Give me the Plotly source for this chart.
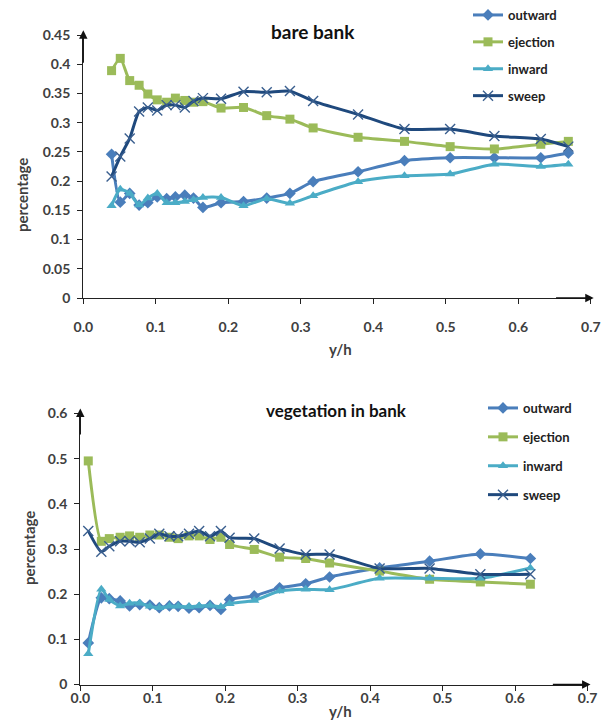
import plotly.graph_objects as go

# ---------------- data: bare bank (top) ----------------
x_top = [0.039, 0.051, 0.064, 0.077, 0.089, 0.102, 0.115, 0.127, 0.140, 0.152, 0.165,
         0.190, 0.221, 0.253, 0.285, 0.317, 0.379, 0.443, 0.506, 0.567, 0.631, 0.669]
top_outward = [0.246, 0.164, 0.179, 0.159, 0.163, 0.173, 0.170, 0.173, 0.176, 0.171, 0.155,
               0.163, 0.165, 0.171, 0.179, 0.199, 0.216, 0.235, 0.240, 0.240, 0.240, 0.248]
top_ejection = [0.389, 0.410, 0.372, 0.364, 0.349, 0.339, 0.335, 0.342, 0.338, 0.335, 0.336,
                0.325, 0.326, 0.312, 0.306, 0.291, 0.275, 0.268, 0.259, 0.255, 0.263, 0.268]
top_inward = [0.158, 0.186, 0.179, 0.159, 0.171, 0.179, 0.163, 0.163, 0.165, 0.168, 0.172,
              0.172, 0.158, 0.170, 0.162, 0.175, 0.199, 0.209, 0.212, 0.229, 0.225, 0.229]
top_sweep = [0.208, 0.242, 0.273, 0.319, 0.326, 0.321, 0.330, 0.330, 0.326, 0.337, 0.342,
             0.341, 0.353, 0.352, 0.354, 0.337, 0.314, 0.289, 0.289, 0.277, 0.272, 0.259]

# ---------------- data: vegetation in bank (bottom) ----------------
x_bot = [0.011, 0.029, 0.040, 0.055, 0.068, 0.082, 0.096, 0.109, 0.123, 0.135, 0.150, 0.164,
         0.179, 0.194, 0.206, 0.240, 0.275, 0.311, 0.344, 0.413, 0.482, 0.552, 0.621]
bot_outward = [0.092, 0.192, 0.190, 0.185, 0.174, 0.177, 0.176, 0.170, 0.174, 0.173, 0.169, 0.170,
               0.175, 0.166, 0.188, 0.196, 0.214, 0.223, 0.238, 0.258, 0.273, 0.289, 0.279]
bot_ejection = [0.495, 0.317, 0.323, 0.326, 0.329, 0.326, 0.331, 0.331, 0.326, 0.323, 0.329, 0.329,
                0.321, 0.326, 0.310, 0.299, 0.282, 0.279, 0.269, 0.251, 0.233, 0.227, 0.222]
bot_inward = [0.068, 0.211, 0.188, 0.174, 0.180, 0.180, 0.173, 0.170, 0.173, 0.173, 0.172, 0.174,
              0.175, 0.172, 0.179, 0.186, 0.207, 0.211, 0.210, 0.235, 0.235, 0.235, 0.258]
bot_sweep = [0.340, 0.294, 0.306, 0.317, 0.317, 0.315, 0.323, 0.334, 0.328, 0.328, 0.334, 0.340,
             0.328, 0.340, 0.325, 0.323, 0.301, 0.288, 0.288, 0.257, 0.257, 0.244, 0.244]

series_names = ["outward", "ejection", "inward", "sweep"]
x_ticks = [0.0, 0.1, 0.2, 0.3, 0.4, 0.5, 0.6, 0.7]
x_ticktext = ["0.0", "0.1", "0.2", "0.3", "0.4", "0.5", "0.6", "0.7"]
y_top_ticks = [0, 0.05, 0.1, 0.15, 0.2, 0.25, 0.3, 0.35, 0.4, 0.45]
y_top_text = ["0", "0.05", "0.1", "0.15", "0.2", "0.25", "0.3", "0.35", "0.4", "0.45"]
y_bot_ticks = [0, 0.1, 0.2, 0.3, 0.4, 0.5, 0.6]
y_bot_text = ["0", "0.1", "0.2", "0.3", "0.4", "0.5", "0.6"]

# page has an 8px body margin; work in page pixel coordinates
OFF = 8
W, H = 612 - OFF, 723 - OFF
def fx(X): return (X - OFF) / W
def fy(Y): return 1 - (Y - OFF) / H

colors = {"outward": "#4A7EBB", "ejection": "#9BBB59", "inward": "#4BACC6", "sweep": "#1F497D"}
symbols = {"outward": "diamond", "ejection": "square", "inward": "triangle-up", "sweep": "x-thin"}
sizes = {"outward": 9, "ejection": 9, "inward": 9, "sweep": 10}

FONT = "Lato"
fig = go.Figure()

def add_series(xs, ys, name, xa, ya, legend):
    c = colors[name]
    marker = dict(symbol=symbols[name], size=sizes[name], color=c)
    if name == "sweep":
        marker["line"] = dict(width=1.4, color="#3A5F8F")
    fig.add_trace(go.Scatter(
        x=xs, y=ys, name=name, mode="lines+markers",
        line=dict(color=c, width=3, shape="spline", smoothing=0.6),
        marker=marker, xaxis=xa, yaxis=ya, legend=legend,
        legendgroup=legend + name, cliponaxis=False))

for name, ys in zip(series_names, [top_outward, top_ejection, top_inward, top_sweep]):
    add_series(x_top, ys, name, "x", "y", "legend")
for name, ys in zip(series_names, [bot_outward, bot_ejection, bot_inward, bot_sweep]):
    add_series(x_bot, ys, name, "x2", "y2", "legend2")

tickfont = dict(family=FONT, size=14, color="#404040", weight="bold")
axis_common = dict(showgrid=False, zeroline=False, showline=True, linecolor="#222",
                   linewidth=1.3, ticks="outside", ticklen=5, tickwidth=1.2,
                   tickcolor="#222", tickfont=tickfont, automargin=False)

legend_font = dict(family=FONT, size=13, color="#222", weight="bold")
fig.update_layout(
    width=W, height=H, margin=dict(l=0, r=0, t=0, b=0, autoexpand=False),
    paper_bgcolor="white", plot_bgcolor="white",
    xaxis=dict(domain=[fx(83.3), fx(590.8)], range=[0, 0.7], anchor="y",
               tickvals=x_ticks, ticktext=x_ticktext, ticklabelstandoff=11, **axis_common),
    yaxis=dict(domain=[fy(298), fy(35)], range=[0, 0.45], anchor="x",
               tickvals=y_top_ticks, ticktext=y_top_text, ticklabelstandoff=4, **axis_common),
    xaxis2=dict(domain=[fx(80.3), fx(587.6)], range=[0, 0.7], anchor="y2",
                tickvals=x_ticks, ticktext=x_ticktext, ticklabelstandoff=-4, **axis_common),
    yaxis2=dict(domain=[fy(684.5), fy(413.5)], range=[0, 0.6], anchor="x2",
                tickvals=y_bot_ticks, ticktext=y_bot_text, ticklabelstandoff=4, **axis_common),
    legend=dict(x=fx(468), y=fy(0), xanchor="left", yanchor="top", font=legend_font,
                tracegroupgap=7, itemwidth=30, bgcolor="rgba(0,0,0,0)"),
    legend2=dict(x=fx(483), y=fy(393), xanchor="left", yanchor="top", font=legend_font,
                 tracegroupgap=9, itemwidth=30, bgcolor="rgba(0,0,0,0)"),
)

ann = []
center = dict(xref="paper", yref="paper", showarrow=False, xanchor="center", yanchor="middle")
# titles
ann.append(dict(text="<b>bare bank</b>", x=fx(313), y=fy(32),
                font=dict(family=FONT, size=19, color="#111"), **center))
ann.append(dict(text="<b>vegetation in bank</b>", x=fx(337), y=fy(410),
                font=dict(family=FONT, size=17, color="#111"), **center))
# axis titles
title_font = dict(family=FONT, size=15, color="#404040")
ann.append(dict(text="<b>percentage</b>", x=fx(22), y=fy(195), textangle=-90, font=title_font, **center))
ann.append(dict(text="<b>percentage</b>", x=fx(29), y=fy(548), textangle=-90, font=title_font, **center))
ann.append(dict(text="<b>y/h</b>", x=fx(340), y=fy(349), font=title_font, **center))
ann.append(dict(text="<b>y/h</b>", x=fx(340), y=fy(711), font=title_font, **center))
# axis arrows
arrow = dict(showarrow=True, arrowhead=2, arrowsize=1.3, arrowwidth=1.3, arrowcolor="#111",
             text="", standoff=0)
ann.append(dict(x=0, y=0.458, ax=0, ay=0.40, xref="x", yref="y", axref="x", ayref="y", **arrow))
ann.append(dict(x=0.704, y=0, ax=0.65, ay=0, xref="x", yref="y", axref="x", ayref="y", **arrow))
ann.append(dict(x=0, y=0.611, ax=0, ay=0.55, xref="x2", yref="y2", axref="x2", ayref="y2", **arrow))
ann.append(dict(x=0.704, y=0, ax=0.65, ay=0, xref="x2", yref="y2", axref="x2", ayref="y2", **arrow))
fig.update_layout(annotations=ann)

fig.write_html("out.html")
